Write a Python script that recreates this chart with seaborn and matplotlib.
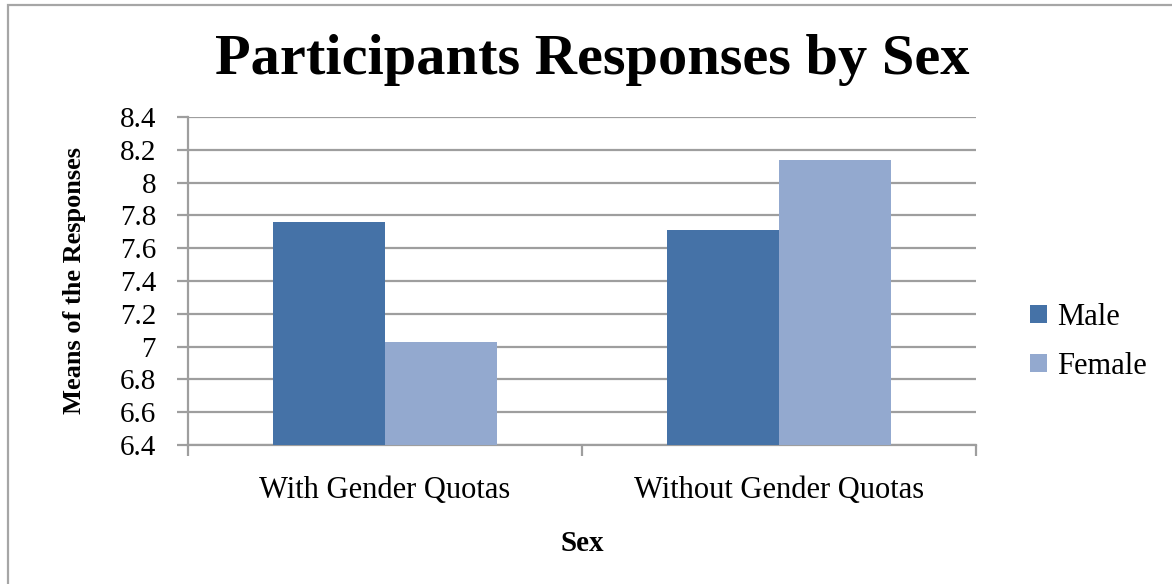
import matplotlib
matplotlib.use("Agg")
import matplotlib.pyplot as plt
from matplotlib.patches import Rectangle
import seaborn as sns
import pandas as pd

conditions = ["With Gender Quotas", "Without Gender Quotas"]
sexes = ["Male", "Female"]
male_means = [7.76, 7.71]
female_means = [7.03, 8.14]
y_ticks = [6.4, 6.6, 6.8, 7.0, 7.2, 7.4, 7.6, 7.8, 8.0, 8.2, 8.4]
y_tick_labels = ["6.4", "6.6", "6.8", "7", "7.2", "7.4", "7.6", "7.8", "8", "8.2", "8.4"]

df = pd.DataFrame({
    "Condition": conditions * 2,
    "Sex": [sexes[0]] * len(conditions) + [sexes[1]] * len(conditions),
    "Mean": male_means + female_means,
})

sns.set_theme(style="white")
plt.rcParams["font.family"] = ["Liberation Serif", "DejaVu Serif"]
plt.rcParams["text.color"] = "black"
plt.rcParams["axes.labelcolor"] = "black"
plt.rcParams["xtick.color"] = "black"
plt.rcParams["ytick.color"] = "black"

fig = plt.figure(figsize=(11.72, 5.84), dpi=100)
ax = fig.add_axes([188 / 1172, 1 - 445 / 584, (976 - 188) / 1172, (445 - 117) / 584])

palette = {"Male": "#4572A7", "Female": "#93A9CF"}
sns.barplot(data=df, x="Condition", y="Mean", hue="Sex", hue_order=sexes,
            palette=palette, width=0.57, gap=0, saturation=1,
            edgecolor="none", linewidth=0, ax=ax, zorder=3)

grid_color = "#9E9E9E"
ax.set_ylim(6.4, 8.4)
ax.set_xlim(-0.5, 1.5)
ax.set_yticks(y_ticks)
ax.set_yticklabels(y_tick_labels, fontsize=21)
ax.yaxis.grid(True, color=grid_color, linewidth=1.6, zorder=0)
ax.set_axisbelow(True)

# category labels without tick marks; ticks drawn at category boundaries
ax.tick_params(axis="x", which="major", bottom=True, length=0, labelsize=22, pad=22,
               labelcolor="black")
ax.set_xticks([-0.5, 0.5, 1.5], minor=True)
ax.tick_params(axis="x", which="minor", bottom=True, length=8, width=1.6,
               color=grid_color, direction="out")
ax.tick_params(axis="y", which="major", left=True, length=8, width=1.6, color=grid_color,
               direction="out", pad=15, labelcolor="black")

for side in ["top", "right"]:
    ax.spines[side].set_visible(False)
for side in ["left", "bottom"]:
    ax.spines[side].set_color(grid_color)
    ax.spines[side].set_linewidth(1.6)

ax.set_xlabel("Sex", fontsize=21, fontweight="bold", labelpad=18, color="black")
ax.set_ylabel("Means of the Responses", fontsize=19, fontweight="bold", labelpad=24, color="black")

leg = ax.legend(loc="center left", bbox_to_anchor=(1030 / 1172, 1 - 342 / 584),
                bbox_transform=fig.transFigure, frameon=False, fontsize=22,
                handlelength=0.55, handleheight=0.55, handletextpad=0.35, labelspacing=0.65,
                borderaxespad=0, borderpad=0)
for t in leg.get_texts():
    t.set_color("black")

fig.text(592 / 1172, 1 - 60 / 584, "Participants Responses by Sex",
         ha="center", va="center", fontsize=42, fontweight="bold", color="black")

fig.patches.append(Rectangle((8 / 1172, -0.1), 1.2, 1 - 5 / 584 + 0.1,
                             transform=fig.transFigure, fill=False,
                             edgecolor="#A6A6A6", linewidth=1.6))

fig.savefig("out.png", dpi=100)
